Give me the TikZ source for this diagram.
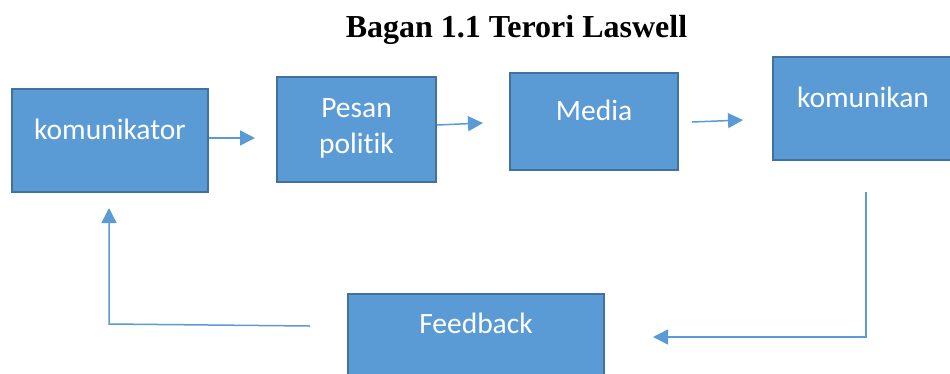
\documentclass[tikz,border=0pt]{standalone}
\usepackage{fontspec}
\setmainfont{Liberation Serif}
\newfontfamily\boxfont[Ligatures={NoCommon,NoRare,NoDiscretionary},Contextuals=NoAlternate]{Carlito}
\usetikzlibrary{arrows.meta}
\definecolor{boxfill}{HTML}{5B9BD5}
\definecolor{boxline}{HTML}{41719C}
\definecolor{arrcol}{HTML}{5B9BD5}
\tikzset{
  box/.style={rectangle, draw=boxline, fill=boxfill, line width=2pt, inner sep=0pt},
  lbl/.style={anchor=base, text=white, font=\boxfont\fontsize{29.5}{30}\selectfont, inner sep=0pt},
  arr/.style={draw=arrcol, line width=1.5pt, -{Triangle[length=15pt,width=15pt]}},
  ln/.style={draw=arrcol, line width=1.5pt}
}
\begin{document}
\begin{tikzpicture}[x=1pt,y=-1pt]
\useasboundingbox (0,0) rectangle (950,373);
\clip (0,0) rectangle (950,373);
\node[anchor=base, font=\bfseries\fontsize{32}{34}\selectfont, inner sep=0pt] (title) at (516.5,37) {Bagan 1.1 Terori Laswell};
% boxes
\node[box, minimum width=196pt, minimum height=103pt] (kom) at (110,140.5) {};
\node[box, minimum width=159pt, minimum height=105pt] (pesan) at (356.5,129.5) {};
\node[box, minimum width=168pt, minimum height=97pt] (media) at (594,121.5) {};
\node[box, minimum width=180pt, minimum height=103pt] (kan) at (863,108.5) {};
\node[box, minimum width=256pt, minimum height=103pt] (fb) at (476,345.5) {};
% labels
\node[lbl] (tkom) at (110,139) {komunikator};
\node[lbl] (tpes1) at (356.5,117) {Pesan};
\node[lbl] (tpes2) at (356.5,153) {politik};
\node[lbl] (tmed) at (594,120) {Media};
\node[lbl] (tkan) at (863,107) {komunikan};
\node[lbl] (tfb) at (476,333) {Feedback};
% arrow end points
\coordinate (a1) at (255,138);
\coordinate (a2s) at (437,125);
\coordinate (a2) at (483,123);
\coordinate (a3s) at (692,122);
\coordinate (a3) at (743,120);
\coordinate (b1) at (866,192);
\coordinate (b2) at (866,337);
\coordinate (b3) at (653,337);
\coordinate (c1) at (310,326);
\coordinate (c2) at (109,324);
\coordinate (c3) at (109,208);
% connectors
\draw[arr] (kom.east |- a1) -- (a1);
\draw[arr] (a2s) -- (a2);
\draw[arr] (a3s) -- (a3);
\draw[arr] (b1) -- (b2) -- (b3);
\draw[arr] (c1) -- (c2) -- (c3);
\end{tikzpicture}
\end{document}
